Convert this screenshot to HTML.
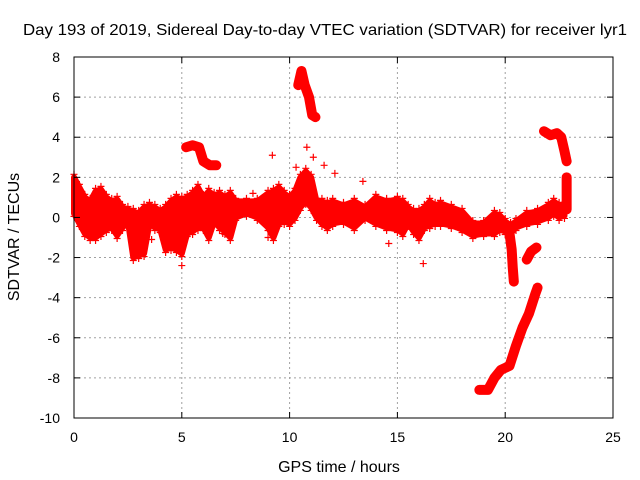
<!DOCTYPE html>
<html><head><meta charset="utf-8"><style>
html,body{margin:0;padding:0;background:#fff}
svg{display:block;font-family:"Liberation Sans",sans-serif}
</style></head><body>
<svg id="chart" width="640" height="480">
<text x="325" y="35" text-anchor="middle" font-size="16" textLength="604" lengthAdjust="spacingAndGlyphs">Day 193 of 2019, Sidereal Day-to-day VTEC variation (SDTVAR) for receiver lyr1</text>
<text x="339" y="472" text-anchor="middle" font-size="16">GPS time / hours</text>
<text transform="translate(19,237) rotate(-90)" text-anchor="middle" font-size="16">SDTVAR / TECUs</text>
<g id="grid"></g><g id="marks"></g><g id="axes"></g>
</svg>
<script>
const xTicks=[0,5,10,15,20,25];
const yTicks=[-10,-8,-6,-4,-2,0,2,4,6,8];
const bandTime=[0,0.25,0.5,0.75,1,1.25,1.5,1.75,2,2.25,2.5,2.75,3,3.25,3.5,3.75,4,4.25,4.5,4.75,5,5.25,5.5,5.75,6,6.25,6.5,6.75,7,7.25,7.5,8,8.5,9,9.25,9.5,9.75,10,10.25,10.5,10.75,11,11.25,11.5,11.75,12,12.5,13,13.5,14,14.5,15,15.25,15.5,15.75,16,16.25,16.5,16.75,17,17.5,18,18.5,19,19.5,19.75,20,20.25,20.5,21,21.5,22,22.25,22.5,22.75];
const bandLow=[0.2,-0.3,-0.8,-1,-1,-0.8,-0.6,-0.5,-0.9,-0.5,-0.2,-2,-1.9,-1.8,-0.3,-0.5,-0.6,-1.6,-1.5,-1.6,-1.8,-0.8,-0.7,-0.5,-0.5,-1,-0.2,-0.5,-0.7,-1,0,0.2,0,-0.5,-1,-0.3,-0.2,-0.3,0,0.5,0.8,0.5,0,-0.3,-0.5,-0.3,-0.2,-0.5,0,-0.3,-0.5,-0.6,-0.8,-0.3,-0.7,-1,-0.5,-0.4,-0.3,-0.3,-0.4,-0.6,-0.9,-0.8,-0.8,-0.6,-0.7,-0.8,-0.5,-0.3,-0.2,0,0.2,0,0.1];
const bandHigh=[2,1.5,1,0.8,1.3,1.4,1,0.8,0.9,0.5,0.4,0.3,0.2,0.5,0.6,0.5,0.3,0.5,0.8,1,0.9,1,1.2,1.5,1,1.3,1.1,1.2,1,1.2,0.8,0.8,0.8,1.2,1.3,1.5,1.2,1,1.3,2,2.3,2,0.8,0.8,0.7,0.8,0.6,0.8,0.5,1,0.8,0.9,0.8,0.5,0.3,0.3,0.5,0.8,0.6,0.7,0.5,0.3,-0.3,-0.3,0.2,0.1,-0.2,-0.4,-0.2,0.2,0.3,0.6,0.8,0.6,0.6];
const segments=[
 {t:[5.2,5.5,5.8,6.0,6.3,6.6],v:[3.5,3.6,3.5,2.8,2.6,2.6]},
 {t:[10.4,10.55,10.7,10.9,11.05,11.2],v:[6.6,7.3,6.6,6.0,5.1,5.0]},
 {t:[20.2,20.3,20.35,20.4],v:[-0.8,-1.6,-2.5,-3.2]},
 {t:[21.0,21.2,21.45],v:[-2.1,-1.7,-1.5]},
 {t:[18.8,19.2,19.5,19.8,20.2,20.5,20.8,21.1,21.4,21.5],v:[-8.6,-8.6,-8.0,-7.6,-7.4,-6.4,-5.5,-4.8,-3.8,-3.5]},
 {t:[21.8,22.1,22.4,22.6,22.75,22.85],v:[4.3,4.1,4.2,4.0,3.3,2.8]},
 {t:[22.85,22.85,22.85],v:[2.0,1.2,0.4]}
];
const outT=[9.2,10.8,11.1,11.6,5.0,8.3,10.3,12.1,13.4,11.0,14.6,16.2,9.0,6.9,3.6];
const outV=[3.1,3.5,3.0,2.6,-2.4,1.2,2.5,2.2,1.8,1.6,-1.3,-2.3,-1.0,-0.8,-1.1];

const L=74,R=613,T=57,B=418;
const xs=t=>L+(t-0)/(25-0)*(R-L);
const ys=v=>B-(v+10)/18*(B-T);
const NS='http://www.w3.org/2000/svg';
function mk(tag,attrs,parent){const e=document.createElementNS(NS,tag);for(const k in attrs)e.setAttribute(k,attrs[k]);parent.appendChild(e);return e;}
const grid=document.getElementById('grid'),marks=document.getElementById('marks'),axes=document.getElementById('axes');
xTicks.forEach(t=>{
 if(t>0&&t<25){const g=mk('line',{x1:xs(t),x2:xs(t),y1:T,y2:B,stroke:'#a0a0a0','stroke-dasharray':'2,3'},grid);
 
 }
 const lab=mk('text',{x:xs(t),y:B+24,'text-anchor':'middle','font-size':14},axes);lab.textContent=t;
 
 
 mk('line',{x1:xs(t),x2:xs(t),y1:B,y2:B-6,stroke:'#000'},axes);
 mk('line',{x1:xs(t),x2:xs(t),y1:T,y2:T+6,stroke:'#000'},axes);
});
yTicks.forEach(v=>{
 if(v>-10&&v<8){const g=mk('line',{x1:L,x2:R,y1:ys(v),y2:ys(v),stroke:'#a0a0a0','stroke-dasharray':'2,3'},grid);
 
 }
 const lab=mk('text',{x:L-14,y:ys(v)+5,'text-anchor':'end','font-size':14},axes);lab.textContent=v;
 
 
 mk('line',{x1:L,x2:L+6,y1:ys(v),y2:ys(v),stroke:'#000'},axes);
 mk('line',{x1:R,x2:R-6,y1:ys(v),y2:ys(v),stroke:'#000'},axes);
});
const border=mk('rect',{x:L,y:T,width:R-L,height:B-T,fill:'none',stroke:'#000'},axes);


function plus(x,y){mk('path',{d:`M${x-3.5},${y}h7M${x},${y-3.5}v7`,stroke:'#f00','stroke-width':1.2},marks);}
let d='';
bandTime.forEach((t,i)=>{d+=(i?'L':'M')+xs(t)+','+ys(bandHigh[i]);});
for(let i=bandTime.length-1;i>=0;i--)d+='L'+xs(bandTime[i])+','+ys(bandLow[i]);
const band=mk('path',{d:d+'Z',fill:'#f00',stroke:'#f00','stroke-width':6,'stroke-linejoin':'round'},marks);


bandTime.forEach((t,i)=>{plus(xs(t),ys(bandLow[i])+3);plus(xs(t),ys(bandHigh[i])-3);});
segments.forEach(s=>{
 const p=mk('polyline',{points:s.t.map((t,i)=>xs(t)+','+ys(s.v[i])).join(' '),fill:'none',stroke:'#f00','stroke-width':10,'stroke-linejoin':'round','stroke-linecap':'round'},marks);
 
 
 s.t.forEach((t,i)=>plus(xs(t),ys(s.v[i])));
});
outT.forEach((t,i)=>plus(xs(t),ys(outV[i])));
</script>
</body></html>
